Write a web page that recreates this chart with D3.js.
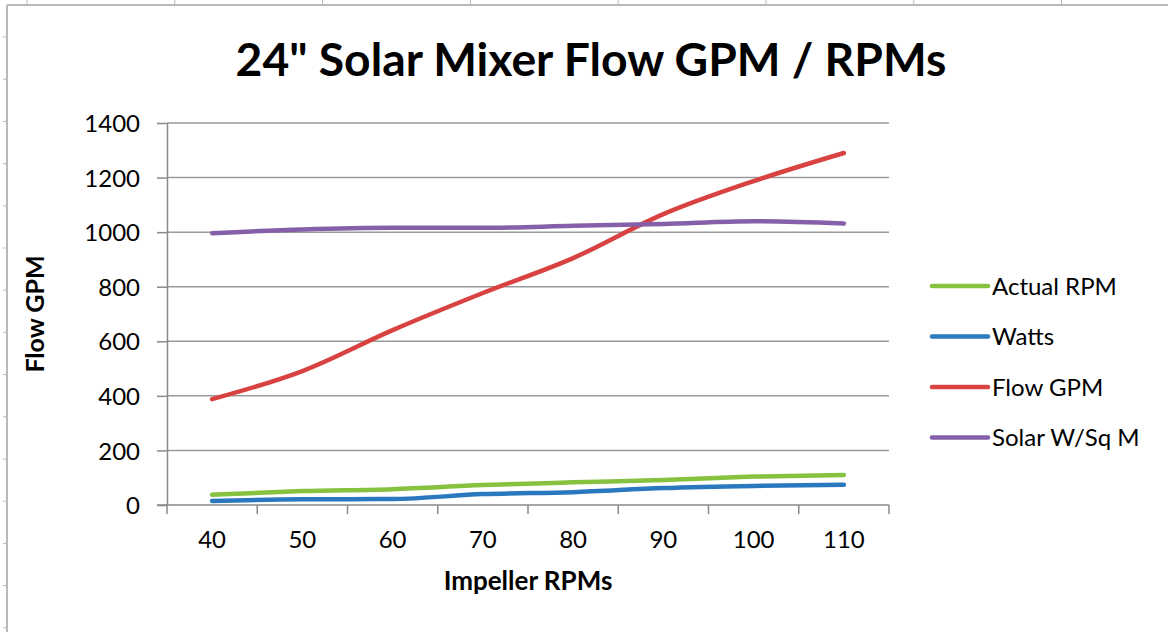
<!DOCTYPE html>
<html>
<head>
<meta charset="utf-8">
<script src="https://cdn.jsdelivr.net/npm/d3@7"></script>
<style>
  body { margin: 0; background: #fff; }
  text { font-family: Lato, "Open Sans", sans-serif; fill: #000; }
</style>
</head>
<body>
<script>
"use strict";

// Data

const rpms = [40, 50, 60, 70, 80, 90, 100, 110];
const actualRpm = [38, 51, 58, 73, 83, 92, 104, 110];
const watts = [15, 21, 22, 40, 47, 62, 70, 74];
const flowGpm = [388, 491, 641, 777, 905, 1066, 1187, 1290];
const solarWsqm = [996, 1010, 1016, 1016, 1023, 1030, 1040, 1032];
const seriesNames = ["Actual RPM", "Watts", "Flow GPM", "Solar W/Sq M"];
const seriesColors = ["#86c140", "#2a78be", "#d84341", "#8560a8"];
const yTicks = [0, 200, 400, 600, 800, 1000, 1200, 1400];

const series = [actualRpm, watts, flowGpm, solarWsqm].map((values, i) => ({
    name: seriesNames[i],
    color: seriesColors[i],
    values
}));

// Size parameters

const width = 1168;
const height = 632;
const plotLeft = 167;
const plotRight = 889;
const plotTop = 123;
const plotBottom = 505;
const labelSize = 24;

const svg = d3
    .select('body')
    .append('svg')
    .attr('width', width)
    .attr('height', height);

// Spreadsheet frame behind the chart

const frame = svg.append('g').attr('stroke', '#b8b8b8');
frame.append('line').attr('x1', 7).attr('y1', 5).attr('x2', width).attr('y2', 5).attr('stroke-width', 2);
frame.append('line').attr('x1', 7).attr('y1', 5).attr('x2', 7).attr('y2', height).attr('stroke-width', 2);
d3.range(37, height, 42.2).forEach(y => {
    frame.append('line').attr('x1', 3).attr('x2', 6).attr('y1', y).attr('y2', y).attr('stroke-width', 1);
});
d3.range(27, width, 147.8).forEach(x => {
    frame.append('line').attr('x1', x).attr('x2', x).attr('y1', 0).attr('y2', 4).attr('stroke-width', 1);
});

// Scales

const x = d3.scaleBand().domain(rpms).range([plotLeft, plotRight]);
const xc = d => x(d) + x.bandwidth() / 2;
const y = d3.scaleLinear().domain([0, 1400]).range([plotBottom, plotTop]);

/*************
 * Gridlines *
 *************/

svg.append('g')
    .selectAll('line')
    .data(yTicks.filter(t => t > 0))
    .enter()
    .append('line')
    .attr('x1', plotLeft)
    .attr('x2', plotRight)
    .attr('y1', d => y(d))
    .attr('y2', d => y(d))
    .attr('stroke', '#9a9a9a')
    .attr('stroke-width', 1.5);

/********
 * Axes *
 ********/

const yAxis = svg.append('g')
    .attr('transform', `translate(${plotLeft},0)`)
    .call(d3.axisLeft(y).tickValues(yTicks).tickFormat(d3.format('d')).tickSize(10).tickPadding(17).tickSizeOuter(0));
yAxis.select('.domain').attr('stroke', '#8a8a8a').attr('stroke-width', 1.5);
yAxis.selectAll('.tick line').attr('stroke', '#8a8a8a').attr('stroke-width', 1.5);
yAxis.selectAll('.tick text').style('font-size', `${labelSize}px`).attr('dy', '0.36em');

// x axis: labels centred on categories, ticks between them
const xAxis = svg.append('g')
    .attr('transform', `translate(0,${plotBottom})`)
    .call(d3.axisBottom(x).tickSize(0).tickSizeOuter(0));
xAxis.select('.domain').remove();
xAxis.selectAll('.tick text')
    .style('font-size', `${labelSize}px`)
    .attr('y', 43)
    .attr('dy', 0);

const boundaries = rpms.map(d => x(d)).concat([plotRight]);
svg.append('g')
    .selectAll('line')
    .data(boundaries)
    .enter()
    .append('line')
    .attr('x1', d => d)
    .attr('x2', d => d)
    .attr('y1', plotBottom)
    .attr('y2', plotBottom + 9)
    .attr('stroke', '#8a8a8a')
    .attr('stroke-width', 1.5);
svg.append('line')
    .attr('x1', plotLeft - 10)
    .attr('x2', plotRight)
    .attr('y1', plotBottom)
    .attr('y2', plotBottom)
    .attr('stroke', '#8a8a8a')
    .attr('stroke-width', 1.5);

/*********
 * Lines *
 *********/

const line = d3.line()
    .x((d, i) => xc(rpms[i]))
    .y(d => y(d))
    .curve(d3.curveMonotoneX);

svg.append('g')
    .selectAll('path')
    .data(series)
    .enter()
    .append('path')
    .attr('d', d => line(d.values))
    .attr('fill', 'none')
    .attr('stroke', d => d.color)
    .attr('stroke-width', 4.5)
    .attr('stroke-linecap', 'round')
    .attr('stroke-linejoin', 'round');

/**********
 * Legend *
 **********/

const legend = svg.append('g')
    .selectAll('g')
    .data(series)
    .enter()
    .append('g')
    .attr('transform', (d, i) => `translate(932,${286 + i * 50.5})`);

legend.append('line')
    .attr('x1', 0)
    .attr('x2', 56)
    .attr('stroke', d => d.color)
    .attr('stroke-width', 4.5)
    .attr('stroke-linecap', 'round');

legend.append('text')
    .attr('x', 60)
    .attr('dy', '0.36em')
    .style('font-size', `${labelSize}px`)
    .text(d => d.name);

/**********
 * Titles *
 **********/

const title = svg.append('text')
    .attr('x', 591)
    .attr('y', 76)
    .attr('text-anchor', 'middle')
    .style('font-size', '40px')
    .style('font-weight', 700)
    .text('24" Solar Mixer Flow GPM / RPMs');
// fit title to its width in the picture
const tw = title.node().getComputedTextLength();
title.style('font-size', `${40 * 711 / tw}px`);

svg.append('text')
    .attr('x', 528)
    .attr('y', 590)
    .attr('text-anchor', 'middle')
    .style('font-size', '26px')
    .style('font-weight', 700)
    .text('Impeller RPMs');

svg.append('text')
    .attr('transform', 'translate(44,314) rotate(-90)')
    .attr('text-anchor', 'middle')
    .style('font-size', '25px')
    .style('font-weight', 700)
    .text('Flow GPM');
</script>
</body>
</html>
